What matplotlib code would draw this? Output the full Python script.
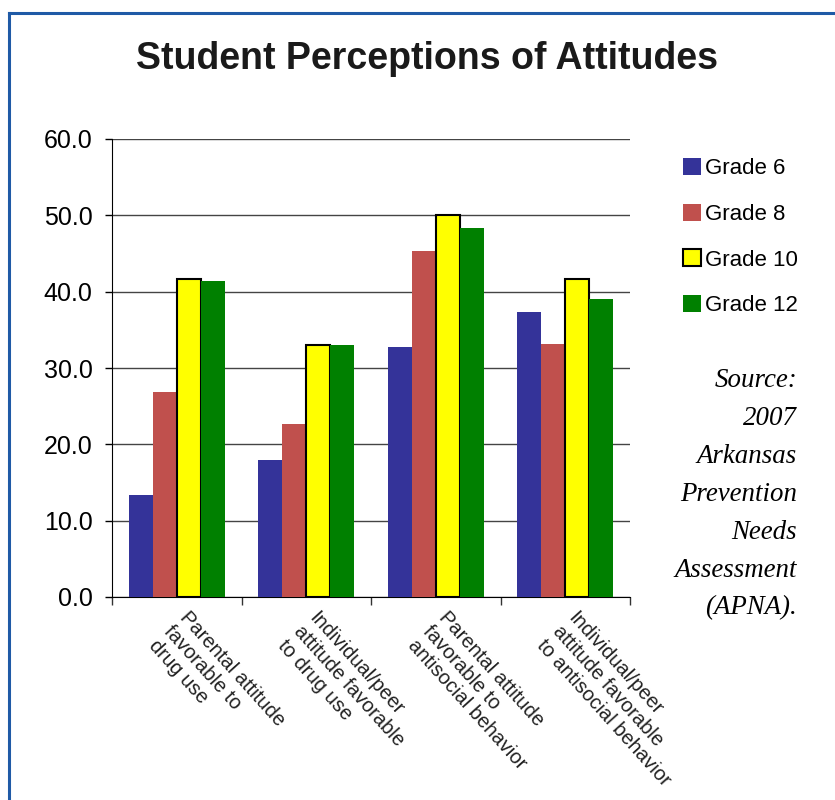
import matplotlib
matplotlib.use("Agg")
import matplotlib.pyplot as plt
import matplotlib.transforms as mtransforms
from matplotlib.lines import Line2D
import numpy as np

categories = ["Parental attitude\nfavorable to\ndrug use",
              "Individual/peer\nattitude favorable\nto drug use",
              "Parental attitude\nfavorable to\nantisocial behavior",
              "Individual/peer\nattitude favorable\nto antisocial behavior"]
series_names = ["Grade 6", "Grade 8", "Grade 10", "Grade 12"]
grade6 = [13.4, 17.9, 32.7, 37.4]
grade8 = [26.9, 22.7, 45.3, 33.2]
grade10 = [41.6, 33.0, 50.0, 41.6]
grade12 = [41.4, 33.0, 48.4, 39.0]
yticks = [0, 10, 20, 30, 40, 50, 60]
title = "Student Perceptions of Attitudes"
source = "Source:\n2007\nArkansas\nPrevention\nNeeds\nAssessment\n(APNA)."

colors = ["#343399", "#C0504D", "#FFFF00", "#008000"]
edges = ["none", "none", "black", "none"]

plt.rcParams['font.family'] = ['Liberation Sans', 'DejaVu Sans']

fig = plt.figure(figsize=(8.35, 8.0), dpi=100)
ax = fig.add_axes([112/835, 1-597/800, (630-112)/835, (597-139)/800])

x = np.arange(len(categories))
w = 0.185
all_series = [grade6, grade8, grade10, grade12]
handles = []
for i, vals in enumerate(all_series):
    b = ax.bar(x + (i - 1.5) * w, vals, width=w, color=colors[i],
               edgecolor=edges[i], linewidth=1.5 if edges[i] != "none" else 0,
               zorder=3, label=series_names[i])
    handles.append(b)

ax.set_xlim(-0.5, len(categories) - 0.5)
ax.set_ylim(0, 60)
ax.set_yticks(yticks)
ax.set_yticklabels([f"{v:.1f}" for v in yticks], fontsize=18)
ax.yaxis.grid(True, color="#444444", linewidth=1.0, zorder=0)
ax.set_axisbelow(True)
ax.tick_params(axis='y', direction='out', length=5, width=1, pad=9, colors='black')
ax.set_xticks(np.arange(-0.5, len(categories)))
ax.set_xticklabels([])
ax.tick_params(axis='x', direction='out', length=6, width=1, colors='#333333')
for s in ['top', 'right']:
    ax.spines[s].set_visible(False)
ax.spines['left'].set_color('black')
ax.spines['bottom'].set_color('black')

trans = mtransforms.blended_transform_factory(ax.transData, ax.transAxes)
off = mtransforms.ScaledTranslation(13/100, -11/100, fig.dpi_scale_trans)
for xi, lab in zip(x, categories):
    ax.text(xi, 0, lab, transform=trans + off, rotation=-48, rotation_mode='anchor',
            ha='left', va='top', multialignment='left', fontsize=14.5,
            color='#222222', linespacing=1.12)

fig.text(427/835, 1-59/800, title, ha='center', va='center', fontsize=27,
         fontweight='bold', color='#1a1a1a')

fig.legend(handles=handles, labels=series_names, loc='upper left',
           bbox_to_anchor=(683/835, 1-158/800), frameon=False, fontsize=16,
           handlelength=0.8, handleheight=0.8, handletextpad=0.2,
           labelspacing=1.1, borderpad=0, borderaxespad=0)

fig.text(797/835, 1-368/800, source, ha='right', va='top', fontsize=19.4,
         family=['Liberation Serif', 'DejaVu Serif'], style='italic',
         linespacing=1.68, multialignment='right')

bc = "#1F5AA6"
fig.add_artist(Line2D([9/835, 9/835], [0, 1-13/800], transform=fig.transFigure,
                      color=bc, linewidth=2.2))
fig.add_artist(Line2D([9/835, 1], [1-13/800, 1-13/800], transform=fig.transFigure,
                      color=bc, linewidth=2.2))

fig.savefig("out.png", dpi=100)
